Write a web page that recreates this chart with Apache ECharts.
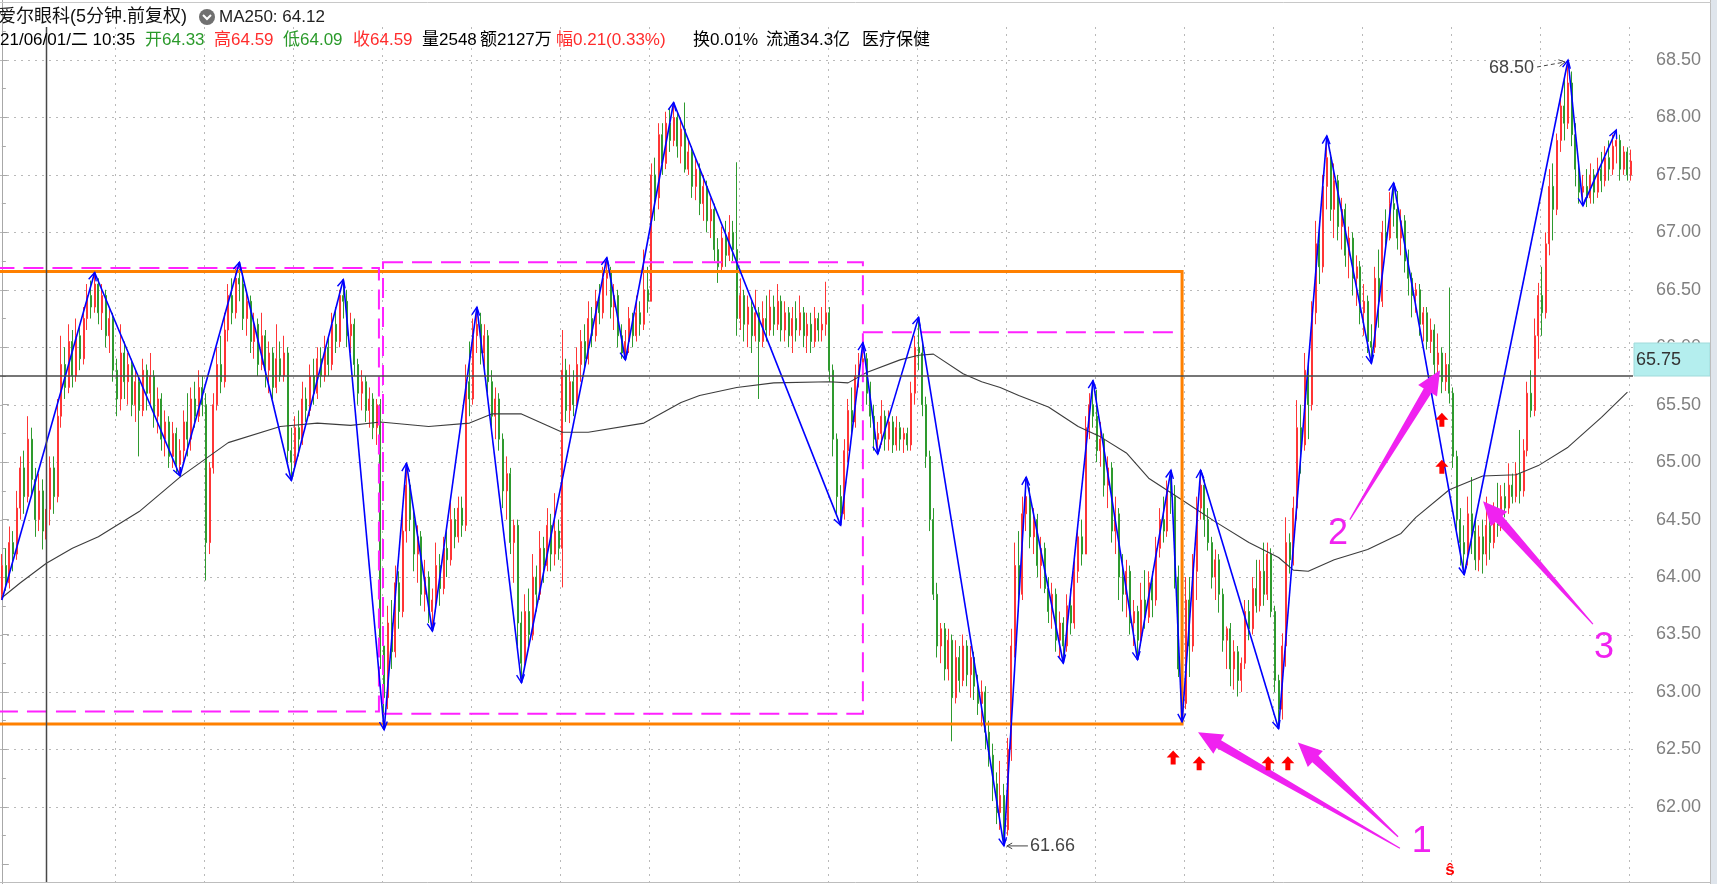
<!DOCTYPE html>
<html><head><meta charset="utf-8">
<script src="https://cdn.jsdelivr.net/npm/echarts@6/dist/echarts.min.js"></script>
<style>html,body{margin:0;padding:0;background:#fff;overflow:hidden}#c{width:1717px;height:884px}</style>
</head><body><div id="c"></div>
<script>
// ---- data: 5-minute candles [open, close, low, high] ----
const candles = [
[63.85,64.10,63.80,64.20],[64.10,63.95,63.88,64.25],[63.95,64.30,63.90,64.44],[64.30,64.20,64.05,64.40],[64.20,64.60,64.15,64.75],[64.60,64.95,64.50,65.05],[64.95,64.70,64.55,65.10],[64.70,65.20,64.65,65.40],[65.20,64.85,64.70,65.30],[64.85,64.50,64.35,64.95],
[64.50,64.75,64.40,64.90],[64.75,64.40,64.24,64.85],[64.33,64.59,64.09,64.59],[64.59,64.95,64.45,65.05],[64.95,64.70,64.55,65.05],[64.70,65.40,64.65,65.55],[65.40,65.85,65.30,66.10],[65.85,65.65,65.55,66.00],[65.65,66.05,65.60,66.20],[66.05,65.75,65.65,66.15],
[65.75,66.10,65.70,66.25],[66.10,65.90,65.80,66.20],[65.90,66.25,65.85,66.35],[66.25,66.45,66.15,66.55],[66.45,66.35,66.25,66.58],[66.35,66.55,66.30,66.65],[66.55,66.30,66.20,66.60],[66.30,66.45,66.15,66.55],[66.45,66.10,66.00,66.50],[66.10,66.25,65.95,66.35],
[66.25,65.80,65.70,66.30],[65.80,65.55,65.40,65.90],[65.55,65.95,65.45,66.20],[65.95,65.70,65.55,66.05],[65.70,65.85,65.50,65.95],[65.85,65.50,65.40,65.90],[65.50,65.70,65.35,65.80],[65.70,65.45,65.05,65.75],[65.45,65.80,65.40,65.90],[65.80,65.60,65.45,65.85],
[65.60,65.75,65.50,65.95],[65.75,65.40,65.30,65.80],[65.40,65.55,65.25,65.65],[65.55,65.20,65.10,65.60],[65.20,65.35,65.05,65.45],[65.35,65.05,64.95,65.40],[65.05,65.25,64.95,65.35],[65.25,64.98,64.90,65.30],[64.98,65.10,64.88,65.20],[65.10,65.35,65.00,65.45],
[65.35,65.20,65.05,65.60],[65.20,65.55,65.10,65.65],[65.55,65.40,65.30,65.70],[65.40,65.65,65.35,65.80],[65.65,65.50,65.40,65.75],[65.50,64.30,63.97,65.60],[64.30,64.95,64.20,65.00],[64.95,65.50,64.90,65.60],[65.50,65.85,65.45,66.00],[65.85,65.70,65.60,66.10],
[65.70,66.15,65.65,66.30],[66.15,66.45,66.05,66.55],[66.45,66.30,66.20,66.60],[66.30,66.60,66.25,66.70],[66.60,66.55,66.40,66.74],[66.55,66.25,66.15,66.65],[66.25,66.40,66.10,66.50],[66.40,66.05,65.95,66.45],[66.05,66.20,65.90,66.30],[66.20,65.85,65.75,66.25],
[65.85,66.10,65.80,66.30],[66.10,65.80,65.65,66.15],[65.80,65.95,65.60,66.05],[65.95,65.65,65.55,66.00],[65.65,65.90,65.60,66.20],[65.90,65.75,65.70,66.05],[65.75,65.95,65.70,66.10],[65.95,65.10,65.00,66.00],[65.10,65.00,64.84,65.30],[65.00,65.30,64.95,65.40],
[65.30,65.20,65.05,65.45],[65.20,65.55,65.15,65.70],[65.55,65.45,65.35,65.65],[65.45,65.75,65.40,65.85],[65.75,65.60,65.50,65.90],[65.60,65.90,65.55,66.00],[65.90,65.75,65.65,66.00],[65.75,66.00,65.70,66.10],[66.00,65.85,65.75,66.10],[65.85,66.20,65.80,66.30],
[66.20,66.05,65.95,66.35],[66.05,66.45,66.00,66.50],[66.45,66.40,66.25,66.59],[66.40,66.10,66.00,66.50],[66.10,66.20,65.95,66.30],[66.20,65.85,65.75,66.25],[65.85,65.60,65.50,65.90],[65.60,65.70,65.45,65.80],[65.70,65.45,65.35,65.75],[65.45,65.55,65.30,65.65],
[65.55,65.30,65.20,65.60],[65.30,65.50,65.15,65.55],[65.50,63.40,63.20,65.55],[63.40,62.95,62.67,63.50],[62.95,63.60,62.85,63.75],[63.60,63.35,63.20,63.80],[63.35,63.95,63.30,64.10],[63.95,63.70,63.55,64.05],[63.70,64.40,63.65,64.55],[64.40,64.80,64.30,64.99],
[64.80,64.50,64.40,64.85],[64.50,64.20,64.05,64.60],[64.20,64.35,63.95,64.45],[64.35,63.85,63.75,64.40],[63.85,64.00,63.70,64.15],[64.00,63.70,63.60,64.05],[63.70,63.80,63.53,63.90],[63.80,64.10,63.70,64.30],[64.10,63.90,63.75,64.20],[63.90,64.25,63.85,64.35],
[64.25,64.15,64.00,64.40],[64.15,64.50,64.10,64.65],[64.50,64.35,64.25,64.60],[64.35,64.60,64.30,64.70],[64.60,64.45,64.35,64.70],[64.45,65.70,64.40,65.85],[65.70,65.55,65.40,66.05],[65.55,66.10,65.50,66.25],[66.10,66.20,65.95,66.35],[66.20,65.95,65.85,66.30],
[65.95,66.10,65.80,66.20],[66.10,65.70,65.60,66.15],[65.70,65.40,65.25,65.80],[65.40,65.55,65.20,65.65],[65.55,65.20,65.10,65.60],[65.20,64.75,64.60,65.25],[64.75,64.90,64.50,65.05],[64.90,64.30,64.20,64.95],[64.30,64.45,63.95,64.50],[64.45,63.60,63.40,64.50],
[63.60,63.25,63.08,63.70],[63.25,63.70,63.20,63.85],[63.70,63.50,63.37,63.90],[63.50,64.00,63.45,64.20],[64.00,63.85,63.70,64.10],[63.85,64.25,63.80,64.40],[64.25,64.10,63.95,64.35],[64.10,64.45,64.05,64.60],[64.45,64.20,64.05,64.55],[64.20,64.40,64.10,64.73],
[64.40,64.25,64.15,64.50],[64.25,65.80,63.91,66.15],[65.80,65.45,65.35,65.90],[65.45,65.70,65.34,65.85],[65.70,65.50,65.40,65.80],[65.50,65.85,65.45,66.00],[65.85,66.05,65.70,66.15],[66.05,65.90,65.80,66.20],[65.90,66.25,65.85,66.40],[66.25,66.10,66.00,66.35],
[66.10,66.40,66.05,66.50],[66.40,66.30,66.20,66.55],[66.30,66.60,66.25,66.70],[66.60,66.65,66.45,66.78],[66.65,66.35,66.25,66.70],[66.35,66.45,66.15,66.55],[66.45,66.10,66.00,66.50],[66.10,65.95,65.90,66.20],[65.95,66.05,65.89,66.15],[66.05,66.25,65.95,66.35],
[66.25,66.10,66.00,66.30],[66.10,66.30,66.05,66.45],[66.30,66.20,66.10,66.40],[66.20,66.50,66.15,66.85],[66.50,66.40,66.30,66.70],[66.40,67.50,66.40,67.60],[67.50,67.30,67.10,67.65],[67.30,67.85,67.20,67.95],[67.85,67.60,67.50,67.95],[67.60,67.95,67.55,68.05],
[67.95,67.80,67.70,68.08],[67.80,68.00,67.75,68.13],[68.00,67.75,67.65,68.05],[67.75,67.90,67.60,68.00],[67.90,67.55,67.52,68.13],[67.55,67.70,67.50,67.80],[67.70,67.40,67.30,67.75],[67.40,67.55,67.28,67.65],[67.55,67.25,67.15,67.60],[67.25,67.40,67.10,67.50],
[67.40,67.10,67.00,67.45],[67.10,67.20,66.95,67.30],[67.20,66.85,66.75,67.25],[66.85,66.70,66.56,66.95],[66.70,66.95,66.65,67.05],[66.95,66.80,66.70,67.10],[66.80,67.00,66.75,67.15],[67.00,66.85,66.75,67.10],[66.85,66.25,66.10,67.61],[66.25,66.45,66.15,66.60],
[66.45,66.20,66.05,66.50],[66.20,66.35,66.00,66.45],[66.35,66.10,65.95,66.40],[66.10,66.30,66.05,66.50],[66.30,66.05,65.55,66.35],[66.05,66.25,66.00,66.40],[66.25,66.15,66.05,66.45],[66.15,66.35,66.10,66.50],[66.35,66.20,66.10,66.45],[66.20,66.40,66.15,66.55],
[66.40,66.15,66.05,66.45],[66.15,66.30,66.05,66.40],[66.30,66.10,66.00,66.35],[66.10,66.25,65.95,66.35],[66.25,66.15,66.05,66.40],[66.15,66.30,66.10,66.45],[66.30,66.10,66.00,66.35],[66.10,66.20,65.95,66.30],[66.20,66.05,65.95,66.30],[66.05,66.25,66.00,66.35],
[66.25,66.15,66.05,66.30],[66.15,66.20,66.05,66.35],[66.20,66.30,66.10,66.57],[66.30,65.80,65.70,66.35],[65.80,65.20,65.05,65.85],[65.20,64.70,64.55,65.25],[64.70,64.55,64.45,64.80],[64.55,65.10,64.50,65.20],[65.10,65.45,65.00,65.55],[65.45,65.35,65.25,65.65],
[65.35,65.75,65.30,65.85],[65.75,65.85,65.65,65.95],[65.85,65.90,65.70,66.04],[65.90,65.60,65.50,65.95],[65.60,65.40,65.30,65.70],[65.40,65.20,65.10,65.50],[65.20,65.25,65.07,65.35],[65.25,65.40,65.15,65.54],[65.40,65.20,65.10,65.45],[65.20,65.35,65.10,65.45],
[65.35,65.15,65.08,65.40],[65.15,65.30,65.10,65.40],[65.30,65.20,65.10,65.35],[65.20,65.25,65.08,65.30],[65.25,65.15,65.10,65.30],[65.15,65.60,65.10,65.70],[65.60,66.00,65.50,66.10],[66.00,65.95,65.80,66.26],[65.95,65.50,65.40,66.05],[65.50,65.05,64.95,65.57],
[65.05,64.50,64.40,65.10],[64.50,63.85,63.80,64.60],[63.85,63.40,63.30,63.95],[63.40,63.55,63.25,63.60],[63.55,63.20,63.10,63.60],[63.20,63.45,63.10,63.55],[63.45,62.95,62.57,63.50],[62.95,63.30,62.90,63.45],[63.30,63.10,63.00,63.40],[63.10,63.40,63.05,63.50],
[63.40,63.15,63.05,63.45],[63.15,63.30,62.95,63.40],[63.30,63.05,62.93,63.35],[63.05,62.90,62.80,63.15],[62.90,63.00,62.70,63.10],[63.00,62.65,62.50,63.05],[62.65,62.45,62.35,62.75],[62.45,62.20,62.05,62.55],[62.20,61.95,61.85,62.30],[61.95,62.10,61.80,62.40],
[62.10,61.80,61.66,62.20],[61.80,62.50,61.75,62.60],[62.50,63.40,62.40,63.55],[63.40,64.10,63.30,64.30],[64.10,63.85,63.70,64.40],[63.85,64.55,63.80,64.70],[64.55,64.70,64.40,64.87],[64.70,64.35,64.25,64.78],[64.35,64.50,64.20,64.60],[64.50,64.10,64.00,64.55],
[64.10,64.25,63.90,64.35],[64.25,63.90,63.86,64.30],[63.90,63.70,63.60,64.00],[63.70,63.85,63.55,63.95],[63.85,63.45,63.35,63.90],[63.45,63.60,63.30,63.70],[63.60,63.40,63.25,63.65],[63.40,63.75,63.35,63.85],[63.75,63.60,63.50,63.90],[63.60,64.05,63.55,64.15],
[64.05,64.35,63.95,64.45],[64.35,64.20,64.10,64.50],[64.20,65.30,64.20,65.40],[65.30,65.50,65.20,65.60],[65.50,65.40,65.30,65.71],[65.40,65.10,65.00,65.63],[65.10,65.20,64.96,65.35],[65.20,64.80,64.70,65.25],[64.80,64.95,64.60,65.05],[64.95,64.40,64.30,65.00],
[64.40,64.55,64.20,64.70],[64.55,64.00,63.80,64.60],[64.00,63.85,63.70,64.20],[63.85,64.05,63.65,64.15],[64.05,63.60,63.50,64.10],[63.60,63.70,63.40,63.80],[63.70,63.45,63.28,63.75],[63.45,63.80,63.40,63.95],[63.80,63.65,63.55,64.06],[63.65,63.95,63.60,64.05],
[63.95,63.80,63.65,64.05],[63.80,64.25,63.75,64.35],[64.25,64.50,64.17,64.60],[64.50,64.40,64.30,64.70],[64.40,64.75,64.35,64.84],[64.75,64.70,64.55,64.93],[64.70,64.00,63.90,64.80],[64.00,63.20,63.13,64.10],[63.20,62.90,62.74,63.51],[62.90,63.80,62.85,64.00],
[63.80,63.40,63.13,64.00],[63.40,64.05,63.35,64.20],[64.05,64.60,63.80,64.70],[64.60,64.80,64.50,64.93],[64.80,64.50,64.35,64.85],[64.50,64.30,64.23,64.60],[64.30,64.00,63.90,64.35],[64.00,64.15,63.80,64.24],[64.15,63.85,63.69,64.20],[63.85,63.45,63.35,63.90],
[63.45,63.55,63.20,63.57],[63.55,63.20,63.05,63.60],[63.20,63.35,63.02,63.45],[63.35,63.10,62.96,63.40],[63.10,63.25,63.00,63.30],[63.25,63.70,63.20,63.80],[63.70,63.55,63.45,63.80],[63.55,63.90,63.50,64.00],[63.90,63.75,63.69,64.15],[63.75,64.05,63.70,64.15],
[64.05,63.85,63.75,64.30],[63.85,64.20,63.80,64.30],[64.20,63.70,63.65,64.25],[63.70,63.10,63.00,63.75],[63.10,62.85,62.68,63.15],[62.85,63.40,62.76,63.51],[63.40,64.30,63.22,64.52],[64.30,64.15,64.03,64.38],[64.15,64.60,64.10,64.70],[64.60,65.30,64.50,65.54],
[65.30,65.15,64.90,65.50],[65.15,65.80,65.10,65.95],[65.80,65.50,65.20,65.90],[65.50,66.30,65.45,66.40],[66.30,66.90,66.20,67.10],[66.90,66.70,66.55,67.05],[66.70,67.40,66.65,67.50],[67.40,67.65,67.20,67.84],[67.65,67.20,67.10,67.70],[67.20,67.45,66.95,67.60],
[67.45,67.05,66.93,67.50],[67.05,67.20,66.85,67.30],[67.20,66.80,66.70,67.25],[66.80,66.95,66.60,67.05],[66.95,66.60,66.45,67.00],[66.60,66.70,66.36,66.80],[66.70,66.30,66.20,66.75],[66.30,66.40,66.10,66.55],[66.40,66.05,65.95,66.45],[66.05,66.00,65.86,66.20],
[66.00,66.60,65.95,66.70],[66.60,66.40,66.17,66.85],[66.40,67.00,66.35,67.10],[67.00,66.95,66.85,67.20],[66.95,67.25,66.93,67.35],[67.25,67.20,67.05,67.43],[67.20,66.95,66.85,67.36],[66.95,67.10,66.80,67.20],[67.10,66.75,66.65,67.15],[66.75,66.60,66.45,66.85],
[66.60,66.45,66.26,66.65],[66.45,66.50,66.30,66.56],[66.50,66.20,66.10,66.55],[66.20,66.30,66.05,66.35],[66.30,66.05,65.98,66.35],[66.05,66.15,65.95,66.25],[66.15,65.85,65.70,66.20],[65.85,65.95,65.65,66.12],[65.95,65.70,65.60,66.00],[65.70,65.85,65.62,65.95],
[65.85,65.60,65.51,66.52],[65.60,65.05,64.95,65.65],[65.05,64.50,64.40,65.10],[64.50,64.30,64.10,64.60],[64.30,64.20,64.02,64.45],[64.20,64.55,64.10,64.70],[64.55,64.40,64.20,64.87],[64.40,64.15,64.06,64.50],[64.15,64.35,64.05,64.45],[64.35,64.20,64.03,64.50],
[64.20,64.45,64.10,64.70],[64.45,64.30,64.15,64.55],[64.30,64.55,64.25,64.65],[64.55,64.45,64.35,64.82],[64.45,64.70,64.40,64.80],[64.70,64.60,64.52,64.82],[64.60,64.80,64.55,64.99],[64.80,64.70,64.64,64.90],[64.70,64.90,64.65,65.00],[64.90,64.75,64.64,65.28],
[64.75,65.10,64.70,65.20],[65.10,65.60,65.05,65.70],[65.60,65.45,65.39,65.80],[65.45,66.10,65.40,66.25],[66.10,66.45,65.90,66.56],[66.45,66.30,66.10,66.70],[66.30,66.90,66.25,67.00],[66.90,67.40,66.80,67.55],[67.40,67.20,66.93,67.60],[67.20,67.80,67.15,67.86],
[67.80,68.10,67.70,68.20],[68.10,67.95,67.80,68.35],[67.95,68.30,67.90,68.50],[68.30,67.85,67.75,68.40],[67.85,67.55,67.40,67.95],[67.55,67.35,67.25,67.60],[67.35,67.40,67.23,67.50],[67.40,67.30,67.22,67.55],[67.30,67.50,67.25,67.60],[67.50,67.35,67.25,67.55],
[67.35,67.55,67.30,67.65],[67.55,67.45,67.35,67.70],[67.45,67.65,67.40,67.75],[67.65,67.55,67.45,67.80],[67.55,67.75,67.50,67.85],[67.75,67.80,67.60,67.89],[67.80,67.55,67.45,67.85],[67.55,67.70,67.50,67.75],[67.70,67.50,67.45,67.74],[67.50,67.62,67.45,67.72]
];
// MA250 read at bar indices [barIndex, value]
const ma250 = [[0,63.82],[5,63.95],[12,64.12],[19,64.25],[26,64.35],[37,64.57],[48,64.87],[61,65.17],[75,65.31],[85,65.34],[94,65.32],[102,65.35],[115,65.31],[126,65.34],[132,65.42],[140,65.42],[151,65.26],[158,65.26],[173,65.34],[183,65.52],[188,65.58],[198,65.65],[208,65.69],[223,65.70],[228,65.69],[233,65.78],[242,65.89],[247,65.93],[251,65.94],[259,65.77],[264,65.70],[269,65.65],[274,65.58],[282,65.48],[290,65.31],[296,65.22],[303,65.08],[309,64.86],[318,64.67],[327,64.48],[336,64.30],[344,64.17],[348,64.06],[352,64.05],[359,64.15],[368,64.24],[377,64.38],[381,64.52],[390,64.76],[399,64.88],[408,64.89],[414,64.97],[422,65.13],[431,65.39],[438,65.61]];
// zigzag pivots [barIndex, price]
const pivots = [[0,63.80],[25,66.65],[48,64.88],[64,66.74],[78,64.84],[92,66.59],[103,62.67],[109,64.99],[116,63.53],[128,66.35],[140,63.08],[163,66.78],[168,65.89],[181,68.13],[226,64.45],[232,66.04],[236,65.07],[247,66.26],[270,61.66],[276,64.87],[286,63.25],[294,65.71],[306,63.28],[315,64.93],[318,62.74],[323,64.93],[344,62.68],[357,67.84],[369,65.86],[375,67.43],[394,64.02],[422,68.50],[426,67.23],[435,67.89]];
const priceLabels = ['62.00','62.50','63.00','63.50','64.00','64.50','65.00','65.50','66.00','66.50','67.00','67.50','68.00','68.50'];
const sessionBreaks = [30.5,54.5,78.5,102.5,126.5,150.5,174.5,198.5,222.5,246.5,270.5,294.5,318.5,342.5,366.5,390.5,414.5,438.5];
// boxes [fromBar, toBar, top, bottom, kind] kind 0 = orange solid, 1 = pink dashed, 2 = pink dashed top edge only
const boxes = [[-2,318,66.66,62.72,0],[-2,101.6,66.69,62.83,1],[102.7,232,66.74,62.81,1],[232,318,66.13,66.13,2]];
// tapered annotation arrows [tailBar, tailPrice, tipBar, tipPrice]
const bigArrows = [[376.7,61.64,322.3,62.65],[376.2,61.74,349.2,62.56],[363.2,64.50,387.5,65.80],[428.7,63.59,399.1,64.66]];
const arrowNotes = [['1',382.6,61.69],['2',360.0,64.37],['3',431.7,63.38]];
const buySignals = [[315.6,62.43],[322.6,62.38],[341.2,62.38],[346.5,62.38],[388.0,65.37],[388.0,64.96]];
const extremes = [[422,68.50,0],[270,61.66,1]];
const crosshair = [12,65.75];
const header1 = '爱尔眼科(5分钟.前复权)';
const maTitle = 'MA250: 64.12';
const header2 = [['21/06/01/二 10:35','#000'],['开64.33','#2b9a2b'],['高64.59','#ff2d2d'],['低64.09','#2b9a2b'],['收64.59','#ff2d2d'],['量2548','#000'],['额2127万','#000'],['幅0.21(0.33%)','#ff2d2d'],['换0.01%','#000'],['流通34.3亿','#000'],['医疗保健','#000']];
const header2X = [0,145,214,283,353,422,480,556,693,766,862];

const N = candles.length;
const cats = candles.map((_, i) => i);
const FONT = '"Liberation Sans","Noto Sans CJK SC",sans-serif';
const chart = echarts.init(document.getElementById('c'), null, {renderer: 'canvas'});

function head(p, q, len, ang) {
  const dx = q[0]-p[0], dy = q[1]-p[1], L = Math.hypot(dx, dy) || 1, ux = dx/L, uy = dy/L;
  const c = Math.cos(ang), s = Math.sin(ang);
  return [[q[0]+len*(-ux*c+uy*s), q[1]+len*(-ux*s-uy*c)], [q[0], q[1]], [q[0]+len*(-ux*c-uy*s), q[1]+len*(ux*s-uy*c)]];
}
const segs = [];
for (let i = 1; i < pivots.length; i++) segs.push([pivots[i-1][0], pivots[i-1][1], pivots[i][0], pivots[i][1]]);

const graphics = [
  {type:'rect', shape:{x:1711, y:0, width:6, height:884}, style:{fill:'#dfe5ec'}, z:100},
  {type:'line', shape:{x1:1710.5, y1:0, x2:1710.5, y2:884}, style:{stroke:'#bdbdbd', lineWidth:1}, z:100},
  {type:'line', shape:{x1:0, y1:2.5, x2:1711, y2:2.5}, style:{stroke:'#c8c8c8', lineWidth:1}, z:100},
  {type:'line', shape:{x1:0, y1:882.5, x2:1711, y2:882.5}, style:{stroke:'#bdbdbd', lineWidth:1}, z:100},
  {type:'text', x:-2, y:17, style:{text:header1, fill:'#111', font:'18px '+FONT, verticalAlign:'middle'}, z:100},
  {type:'circle', shape:{cx:207, cy:17, r:8}, style:{fill:'#707070'}, z:100},
  {type:'polyline', shape:{points:[[203,15],[207,19],[211,15]]}, style:{stroke:'#fff', lineWidth:2, fill:'none'}, z:101},
  {type:'text', x:219, y:17, style:{text:maTitle, fill:'#222', font:'17px '+FONT, verticalAlign:'middle'}, z:100}
];
header2.forEach((h, i) => graphics.push({type:'text', x:header2X[i], y:40, style:{text:h[0], fill:h[1], font:'17px '+FONT, verticalAlign:'middle'}, z:100}));

const option = {
  animation: false,
  backgroundColor: '#ffffff',
  grid: {left: 0, right: 84, top: -54.9, bottom: -37.75, containLabel: false, outerBoundsMode: 'none'},
  xAxis: [
    {type:'category', data: cats, boundaryGap: true, show: false},
    {type:'value', min: -0.5, max: N - 0.5, show: false}
  ],
  yAxis: {
    type:'value', position:'right', min: 61, max: 69.5, interval: 0.5,
    axisLine:{show:true, lineStyle:{color:'#a8a8a8', width:1}},
    axisTick:{show:true, inside:false, length:7, lineStyle:{color:'#a8a8a8'}},
    minorTick:{show:true, splitNumber:2, length:4, lineStyle:{color:'#a8a8a8'}},
    axisLabel:{margin:23, color:'#808080', fontSize:18, fontFamily:'Liberation Sans',
      formatter: v => priceLabels.includes(v.toFixed(2)) ? v.toFixed(2) : ''},
    splitLine:{show:false}, minorSplitLine:{show:false}
  },
  graphic: graphics,
  series: [
    { // horizontal dotted grid
      type:'custom', xAxisIndex:1, yAxisIndex:0, z:1, silent:true, clip:false,
      data: priceLabels.map(Number),
      renderItem(params, api) {
        const cs = params.coordSys, y = Math.round(api.coord([0, api.value(0)])[1]) + 0.5;
        return {type:'line', shape:{x1:cs.x, y1:y, x2:cs.x+cs.width, y2:y}, style:{stroke:'#b9b9b9', lineWidth:1, lineDash:[2,5]}};
      }
    },
    { // vertical dotted session separators
      type:'custom', xAxisIndex:1, yAxisIndex:0, z:1, silent:true, clip:false,
      data: sessionBreaks.map(v => [v, 65]),
      renderItem(params, api) {
        const x = Math.round(api.coord([api.value(0), 65])[0]) + 0.5;
        return {type:'line', shape:{x1:x, y1:27, x2:x, y2:882}, style:{stroke:'#b9b9b9', lineWidth:1, lineDash:[2,5]}};
      }
    },
    {
      type:'candlestick', xAxisIndex:0, yAxisIndex:0, z:2, data: candles, barWidth: 1.5,
      itemStyle:{color:'#ff3535', color0:'#2e9a2e', borderColor:'#ff3535', borderColor0:'#2e9a2e', borderWidth:1}
    },
    {
      type:'line', xAxisIndex:1, yAxisIndex:0, z:3, data: ma250, showSymbol:false, symbol:'none', silent:true,
      lineStyle:{color:'#3c3c3c', width:1.1}
    },
    { // boxes
      type:'custom', xAxisIndex:1, yAxisIndex:0, z:4, silent:true, clip:false, data: boxes,
      renderItem(params, api) {
        const a = api.coord([api.value(0), api.value(2)]), b = api.coord([api.value(1), api.value(3)]), k = api.value(4);
        if (k === 2) return {type:'line', shape:{x1:a[0], y1:a[1], x2:b[0], y2:a[1]}, style:{stroke:'#ff22ff', lineWidth:2, lineDash:[20,9]}};
        const st = k === 0 ? {fill:'none', stroke:'#ff8000', lineWidth:3} : {fill:'none', stroke:'#ff22ff', lineWidth:2, lineDash:[20,9]};
        return {type:'rect', shape:{x:a[0], y:a[1], width:b[0]-a[0], height:b[1]-a[1]}, style: st};
      }
    },
    { // zigzag
      type:'custom', xAxisIndex:1, yAxisIndex:0, z:5, silent:true, clip:true, data: segs,
      renderItem(params, api) {
        const p = api.coord([api.value(0), api.value(1)]), q = api.coord([api.value(2), api.value(3)]);
        return {type:'group', children:[
          {type:'line', shape:{x1:p[0], y1:p[1], x2:q[0], y2:q[1]}, style:{stroke:'#0000ff', lineWidth:1.6}},
          {type:'polyline', shape:{points: head(p, q, 9, 0.45)}, style:{stroke:'#0000ff', lineWidth:1.4, fill:'none'}}
        ]};
      }
    },
    { // extreme price labels
      type:'custom', xAxisIndex:1, yAxisIndex:0, z:6, silent:true, clip:false, data: extremes,
      renderItem(params, api) {
        const p = api.coord([api.value(0), api.value(1)]), side = api.value(2), txt = api.value(1).toFixed(2);
        if (side === 0) {
          const s = [p[0]-31, p[1]+7], e = [p[0]-3, p[1]+2];
          return {type:'group', children:[
            {type:'line', shape:{x1:s[0], y1:s[1], x2:e[0], y2:e[1]}, style:{stroke:'#444', lineWidth:1, lineDash:[4,3]}},
            {type:'polyline', shape:{points: head(s, e, 7, 0.5)}, style:{stroke:'#444', lineWidth:1, fill:'none'}},
            {type:'text', x:p[0]-34, y:p[1]+8, style:{text:txt, fill:'#444', font:'18px Liberation Sans', align:'right', verticalAlign:'middle'}}
          ]};
        }
        const s = [p[0]+24, p[1]], e = [p[0]+3, p[1]];
        return {type:'group', children:[
          {type:'line', shape:{x1:s[0], y1:s[1], x2:e[0], y2:e[1]}, style:{stroke:'#444', lineWidth:1}},
          {type:'polyline', shape:{points: head(s, e, 6, 0.5)}, style:{stroke:'#444', lineWidth:1, fill:'none'}},
          {type:'text', x:p[0]+26, y:p[1], style:{text:txt, fill:'#444', font:'18px Liberation Sans', align:'left', verticalAlign:'middle'}}
        ]};
      }
    },
    { // crosshair + price tag
      type:'custom', xAxisIndex:1, yAxisIndex:0, z:7, silent:true, clip:false, data: [crosshair],
      renderItem(params, api) {
        const cs = params.coordSys, p = api.coord([api.value(0), api.value(1)]);
        const x = Math.round(p[0]) + 0.5, y = Math.round(p[1]);
        const r = cs.x + cs.width;
        return {type:'group', children:[
          {type:'line', shape:{x1:x, y1:27, x2:x, y2:882}, style:{stroke:'#484848', lineWidth:1.5}},
          {type:'line', shape:{x1:cs.x, y1:y, x2:r, y2:y}, style:{stroke:'#484848', lineWidth:1.5}},
          {type:'rect', shape:{x:r+1, y:y-33, width:76, height:33}, style:{fill:'#b4eeee', stroke:'#a0dada', lineWidth:1}},
          {type:'text', x:r+3, y:y-16, style:{text: api.value(1).toFixed(2), fill:'#333', font:'18px Liberation Sans', verticalAlign:'middle'}}
        ]};
      }
    },
    { // tapered pink arrows
      type:'custom', xAxisIndex:1, yAxisIndex:0, z:8, silent:true, clip:false, data: bigArrows,
      renderItem(params, api) {
        const t = api.coord([api.value(0), api.value(1)]), q = api.coord([api.value(2), api.value(3)]);
        const dx = q[0]-t[0], dy = q[1]-t[1], L = Math.hypot(dx, dy), ux = dx/L, uy = dy/L, nx = -uy, ny = ux;
        const H = 24, b = [q[0]-ux*H, q[1]-uy*H];
        const P = (o, w) => [o[0]+nx*w, o[1]+ny*w];
        return {type:'polygon', shape:{points:[P(t,0.6), P(b,4.5), P(b,11), q, P(b,-11), P(b,-4.5), P(t,-0.6)]}, style:{fill:'#f022f0'}};
      }
    },
    { // arrow labels
      type:'custom', xAxisIndex:1, yAxisIndex:0, z:8, silent:true, clip:false,
      data: arrowNotes.map(a => [a[1], a[2], a[0]]),
      renderItem(params, api) {
        const p = api.coord([api.value(0), api.value(1)]);
        return {type:'text', x:p[0], y:p[1], style:{text: arrowNotes[params.dataIndex][0], fill:'#f022f0', font:'36px Liberation Sans', align:'center', verticalAlign:'middle'}};
      }
    },
    {
      type:'scatter', xAxisIndex:1, yAxisIndex:0, z:8, silent:true, data: buySignals,
      symbol:'path://M6.5,0 L13,7 L9,7 L9,14 L4,14 L4,7 L0,7 Z', symbolSize:[13,14],
      itemStyle:{color:'#ff0000', opacity:1}
    },
    { // s marker at bottom
      type:'custom', xAxisIndex:1, yAxisIndex:0, z:8, silent:true, clip:false, data: [[390.2, 61.45]],
      renderItem(params, api) {
        const p = api.coord([api.value(0), api.value(1)]);
        return {type:'text', x:p[0], y:p[1], style:{text:'ŝ', fill:'#ff0000', font:'bold 17px Liberation Sans', align:'center', verticalAlign:'middle'}};
      }
    }
  ]
};
chart.setOption(option);
</script>
</body></html>
